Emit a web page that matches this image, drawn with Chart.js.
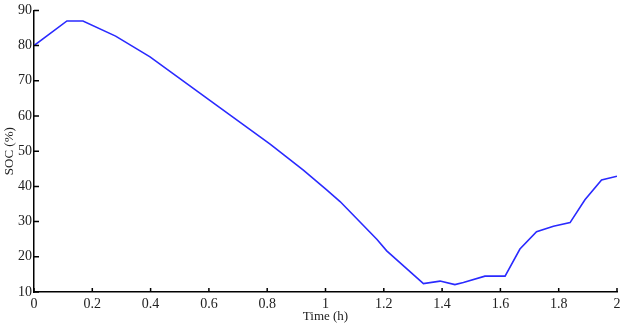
<!DOCTYPE html>
<html lang="en">
<head>
<meta charset="UTF-8">
<title>SOC</title>
<style>
    body { margin: 0; background: #fff; }
    #wrap { width: 629px; height: 325px; }
</style>
</head>
<body>
<div id="wrap"><canvas id="socChart" width="629" height="325"></canvas></div>
<script src="https://cdn.jsdelivr.net/npm/chart.js"></script>
<script>
    // values
    const timeH = [0, 0.113, 0.168, 0.28, 0.398, 0.615, 0.81, 0.924, 1.004, 1.05, 1.176, 1.21,
        1.336, 1.393, 1.444, 1.473, 1.547, 1.616, 1.667, 1.724, 1.782, 1.839, 1.89, 1.947, 2.0];
    const socPct = [80, 87, 87, 82.7, 76.8, 63.7, 52, 44.6, 39, 35.7, 25, 21.7,
        12.4, 13.1, 12.1, 12.7, 14.5, 14.5, 22.2, 27.1, 28.7, 29.7, 36.2, 41.8, 42.9];
    const xTicks = [0, 0.2, 0.4, 0.6, 0.8, 1, 1.2, 1.4, 1.6, 1.8, 2];
    const yTicks = [10, 20, 30, 40, 50, 60, 70, 80, 90];

    const font = { family: '"Liberation Serif", "Times New Roman", serif', size: 14 };

    // matlab style ticks pointing into the plot
    const inwardTicks = {
        id: 'inwardTicks',
        afterDraw(chart) {
            const c = chart.ctx, xs = chart.scales.x, ys = chart.scales.y;
            c.save();
            c.strokeStyle = '#000';
            c.lineWidth = 1.5;
            c.beginPath();
            xTicks.forEach(v => {
                const px = xs.getPixelForValue(v);
                c.moveTo(px, ys.bottom);
                c.lineTo(px, ys.bottom - 4);
            });
            yTicks.forEach(v => {
                const py = ys.getPixelForValue(v);
                c.moveTo(xs.left, py);
                c.lineTo(xs.left + 5, py);
            });
            c.stroke();
            c.restore();
        }
    };

    new Chart(document.getElementById('socChart'), {
        type: 'line',
        data: {
            datasets: [{
                data: timeH.map((t, i) => ({ x: t, y: socPct[i] })),
                borderColor: '#2a2aff',
                borderWidth: 1.6,
                pointRadius: 0,
                tension: 0,
                fill: false
            }]
        },
        options: {
            responsive: false,
            animation: false,
            layout: { padding: { top: 6, right: 12, left: 0, bottom: 0 } },
            plugins: { legend: { display: false }, tooltip: { enabled: false } },
            scales: {
                x: {
                    type: 'linear',
                    min: 0, max: 2,
                    afterBuildTicks: s => { s.ticks = xTicks.map(v => ({ value: v })); },
                    afterFit: s => { s.height = 33; },
                    grid: { display: false, drawTicks: false },
                    border: { display: true, color: '#000', width: 1.5 },
                    ticks: { color: '#222', font: font, padding: 4, maxRotation: 0, autoSkip: false,
                        callback: v => String(v) },
                    title: { display: true, text: 'Time (h)', color: '#222', font: { family: font.family, size: 13 },
                        padding: { top: 0, bottom: 1 } }
                },
                y: {
                    min: 10, max: 90,
                    afterBuildTicks: s => { s.ticks = yTicks.map(v => ({ value: v })); },
                    afterFit: s => { s.width = 34; },
                    grid: { display: false, drawTicks: false },
                    border: { display: true, color: '#000', width: 1.5 },
                    ticks: { color: '#222', font: font, padding: 2, autoSkip: false },
                    title: { display: true, text: 'SOC (%)', color: '#222', font: { family: font.family, size: 13 },
                        padding: { top: 2, bottom: 0 } }
                }
            }
        },
        plugins: [inwardTicks]
    });
</script>
</body>
</html>
